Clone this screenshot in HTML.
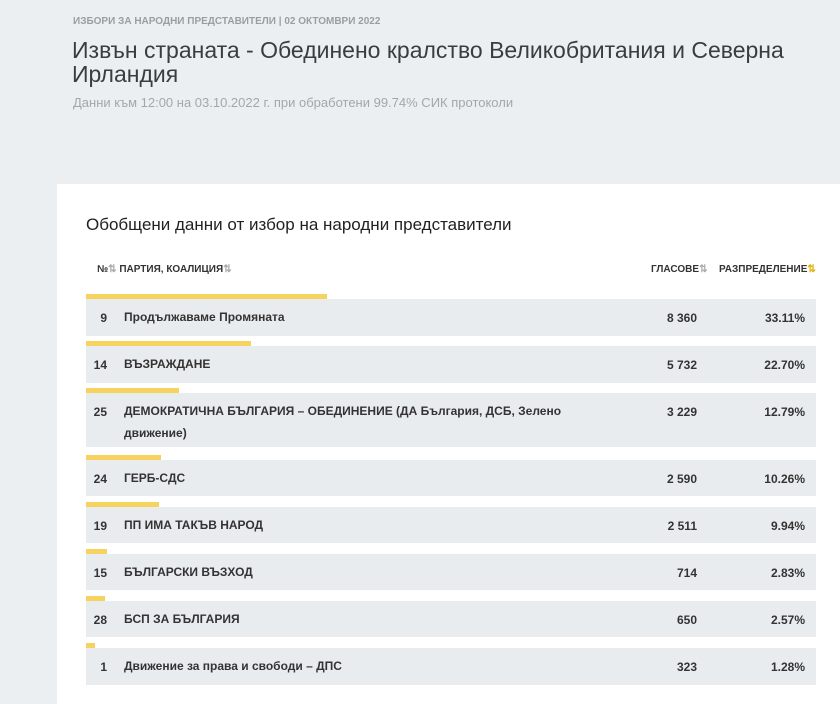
<!DOCTYPE html>
<html><head><meta charset="utf-8"><style>
body{margin:0;width:840px;height:688px;overflow:hidden;background:#eceff2;font-family:"Liberation Sans","DejaVu Sans",sans-serif;position:relative}
.a{position:absolute;white-space:nowrap}
.cond{font-family:"Liberation Sans Narrow","Liberation Sans",sans-serif;font-weight:bold}
.card{position:absolute;left:57px;top:184px;width:783px;height:520px;background:#fff}
.bar{position:absolute;left:86px;height:5px;background:#f5d35e}
.row{position:absolute;left:86px;width:730px;background:#e9ecef;color:#333;font-size:12px}
.row .n{position:absolute;right:709px;top:12px}
.row .p{position:absolute;left:38px;top:12px;line-height:22px;margin-top:-5px;width:460px;white-space:normal}
.row .v{position:absolute;right:119px;top:12px}
.row .r{position:absolute;right:11px;top:12px}
</style></head><body>
<div class="a cond" style="left:73px;top:16px;font-size:10px;color:#9a9ea3">ИЗБОРИ ЗА НАРОДНИ ПРЕДСТАВИТЕЛИ | 02 ОКТОМВРИ 2022</div>
<div class="a" style="left:72px;top:38px;font-size:23px;line-height:24px;color:#3a3d40;white-space:normal;width:760px">Извън страната - Обединено кралство Великобритания и Северна Ирландия</div>
<div class="a" style="left:73px;top:95px;font-size:13px;color:#a3a7ab">Данни към 12:00 на 03.10.2022 г. при обработени 99.74% СИК протоколи</div>
<div class="card"></div>
<div class="a" style="left:86px;top:215px;font-size:17px;color:#222">Обобщени данни от избор на народни представители</div>
<div class="a cond" style="left:97px;top:264px;font-size:10px;color:#333">№<span style="color:#aaa">⇅</span> ПАРТИЯ, КОАЛИЦИЯ<span style="color:#aaa">⇅</span></div>
<div class="a cond" style="left:651px;top:264px;font-size:10px;color:#333">ГЛАСОВЕ<span style="color:#aaa">⇅</span></div>
<div class="a cond" style="left:719px;top:264px;font-size:10px;color:#333">РАЗПРЕДЕЛЕНИЕ<span style="color:#e0b000">⇅</span></div>

<div class="bar" style="top:294px;width:241px"></div>
<div class="row cond" style="top:299px;height:37px"><span class="n">9</span><span class="p">Продължаваме Промяната</span><span class="v">8 360</span><span class="r">33.11%</span></div>
<div class="bar" style="top:341px;width:165px"></div>
<div class="row cond" style="top:346px;height:37px"><span class="n">14</span><span class="p">ВЪЗРАЖДАНЕ</span><span class="v">5 732</span><span class="r">22.70%</span></div>
<div class="bar" style="top:388px;width:93px"></div>
<div class="row cond" style="top:393px;height:54px"><span class="n">25</span><span class="p">ДЕМОКРАТИЧНА БЪЛГАРИЯ – ОБЕДИНЕНИЕ (ДА България, ДСБ, Зелено движение)</span><span class="v">3 229</span><span class="r">12.79%</span></div>
<div class="bar" style="top:455px;width:75px"></div>
<div class="row cond" style="top:460px;height:36px"><span class="n">24</span><span class="p">ГЕРБ-СДС</span><span class="v">2 590</span><span class="r">10.26%</span></div>
<div class="bar" style="top:502px;width:73px"></div>
<div class="row cond" style="top:507px;height:36px"><span class="n">19</span><span class="p">ПП ИМА ТАКЪВ НАРОД</span><span class="v">2 511</span><span class="r">9.94%</span></div>
<div class="bar" style="top:549px;width:21px"></div>
<div class="row cond" style="top:554px;height:36px"><span class="n">15</span><span class="p">БЪЛГАРСКИ ВЪЗХОД</span><span class="v">714</span><span class="r">2.83%</span></div>
<div class="bar" style="top:596px;width:19px"></div>
<div class="row cond" style="top:601px;height:36px"><span class="n">28</span><span class="p">БСП ЗА БЪЛГАРИЯ</span><span class="v">650</span><span class="r">2.57%</span></div>
<div class="bar" style="top:643px;width:9px"></div>
<div class="row cond" style="top:648px;height:37px"><span class="n">1</span><span class="p">Движение за права и свободи – ДПС</span><span class="v">323</span><span class="r">1.28%</span></div>
</body></html>
